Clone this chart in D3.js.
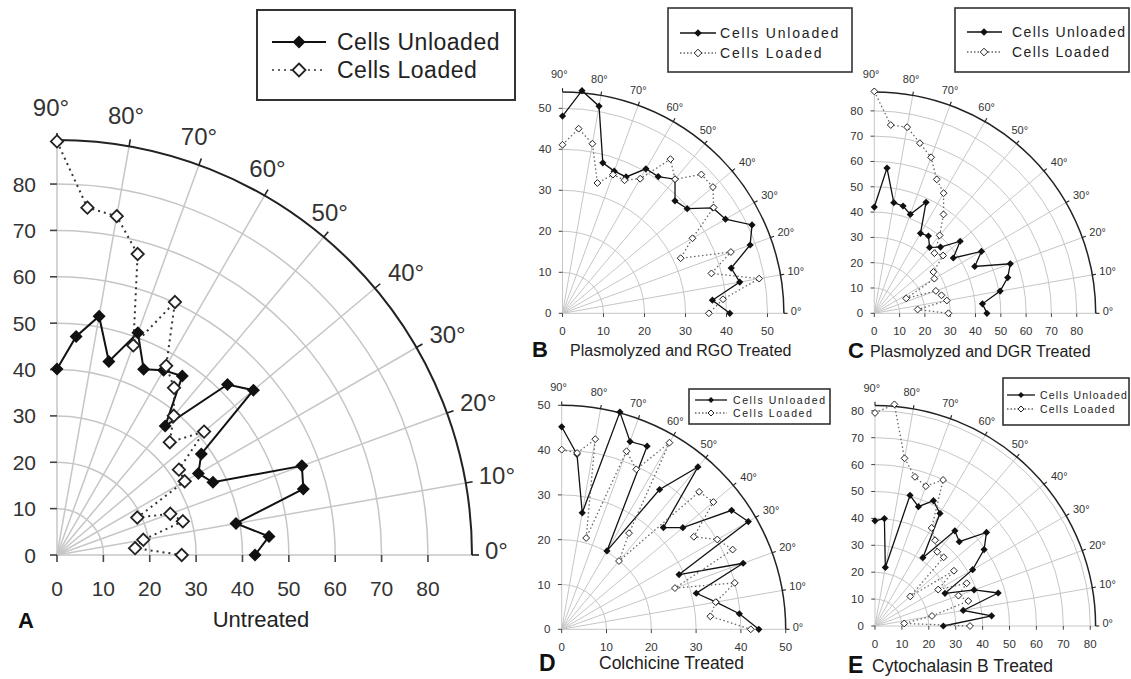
<!DOCTYPE html>
<html><head><meta charset="utf-8">
<script src="https://cdn.jsdelivr.net/npm/d3@7"></script>
<style>body{margin:0;background:#fff}svg{display:block;font-family:"Liberation Sans",Arial,sans-serif}</style>
</head><body><svg id="c" width="1131" height="679"></svg>
<script>
// ---------- data ----------
const angles = [90,85,80,75,70,65,60,55,50,45,40,35,30,25,20,15,10,5,0];
const angleTicks = [90,80,70,60,50,40,30,20,10,0];
const seriesNames = ["Cells Unloaded","Cells Loaded"];
const ticks80 = [0,10,20,30,40,50,60,70,80];
const ticks50 = [0,10,20,30,40,50];

const aUnloaded = [40.1,47.3,52.3,43.2,51.0,44.2,46.0,47.1,36.3,52.0,55.3,38.0,35.2,37.1,56.2,55.0,39.2,45.9,42.7];
const aLoaded   = [89.2,75.2,74.2,67.2,48.1,60.2,47.1,44.0,39.2,34.4,41.4,32.1,31.8,19.1,26.0,28.1,18.9,16.9,26.9];
const bUnloaded = [48.1,54.5,51.3,38.0,36.9,36.7,40.7,40.7,42.7,38.8,39.7,44.8,45.9,51.0,48.7,42.6,43.9,36.7,40.8];
const bLoaded   = [41.1,45.2,42.0,32.9,36.0,35.8,37.9,45.9,42.7,47.9,47.9,45.0,36.6,31.8,43.7,37.6,48.7,39.3,35.7];
const cUnloaded = [42.0,57.6,44.4,43.9,41.6,48.4,36.5,37.3,34.0,37.0,44.3,38.1,48.9,43.8,57.2,54.6,50.5,42.9,44.5];
const cLoaded   = [87.7,74.7,74.7,69.6,65.6,58.4,54.8,47.7,40.2,33.6,35.5,28.5,27.4,13.9,25.9,27.5,29.1,17.2,29.3];
const dUnloaded = [45.2,39.2,26.4,50.2,44.6,45.1,20.2,38.1,47.3,32.1,35.3,46.3,48.1,28.9,43.1,31.1,35.0,39.8,44.0];
const dLoaded   = [40.1,39.5,43.1,21.1,42.3,39.4,48.1,26.2,19.9,43.4,44.2,36.0,40.1,42.1,26.9,40.0,34.9,33.3,42.2];
const eUnloaded = [39.1,40.1,22.1,50.3,47.2,51.4,48.3,31.0,46.2,44.3,54.1,49.5,41.9,28.7,39.2,47.4,33.3,43.5,25.4];
const eLoaded   = [79.2,82.7,63.3,57.4,55.3,59.9,42.1,38.9,36.0,36.1,17.1,35.8,27.1,37.6,33.0,35.9,21.5,10.9,35.3];

const panelLetters = ["A","B","C","D","E"];
const panelTitles = ["Untreated","Plasmolyzed and RGO Treated","Plasmolyzed and DGR Treated","Colchicine Treated","Cytochalasin B Treated"];

// ---------- layout ----------
const svg = d3.select("#c");
const panels = [
 {un:aUnloaded, lo:aLoaded, ticks:ticks80, rMax:89.5, ox:57, oy:555, rPx:415, axisFont:21, angleFont:24, mk:6.5, lw:2,
  letter:[18,628,22], title:[261,627,22,"middle",0],
  legend:{box:[257,10,258,90], y:[42,70], sym:[272,326], mx:299, tx:337, font:23, ls:0.5, lw:2.2, mk:6.5}},
 {un:bUnloaded, lo:bLoaded, ticks:ticks50, rMax:54, ox:562.5, oy:313.3, rPx:221.4, axisFont:11.5, angleFont:11, mk:3.6, lw:1.3,
  letter:[532,357,22], title:[570,356,16,"start",0],
  legend:{box:[668,8,184,64], y:[33,53], sym:[680,716], mx:698, tx:720, font:14, ls:1.8, lw:1.6, mk:3.8}},
 {un:cUnloaded, lo:cLoaded, ticks:ticks80, rMax:87.5, ox:874.3, oy:313.3, rPx:221.4, axisFont:11.5, angleFont:11, mk:3.6, lw:1.3,
  letter:[848,358,22], title:[870,357,16,"start",0],
  legend:{box:[955,8,174,64], y:[32,52], sym:[967,1002], mx:984, tx:1012, font:14, ls:1.4, lw:1.6, mk:3.8}},
 {un:dUnloaded, lo:dLoaded, ticks:ticks50, rMax:50, ox:561.7, oy:629.3, rPx:224, axisFont:11.5, angleFont:11, mk:3.6, lw:1.3,
  letter:[539,671,23], title:[599,669,17.5,"start",0],
  legend:{box:[689,389,141,35], y:[400,413], sym:[695,727], mx:711, tx:733, font:10.5, ls:1.6, lw:1.3, mk:3}},
 {un:eUnloaded, lo:eLoaded, ticks:ticks80, rMax:82, ox:875, oy:626, rPx:220.6, axisFont:11.5, angleFont:11, mk:3.6, lw:1.3,
  letter:[848,673,23], title:[872,672,17.5,"start",0],
  legend:{box:[1003,378,126,47], y:[395,409], sym:[1007,1035], mx:1021, tx:1040, font:10.5, ls:1.2, lw:1.3, mk:3}}
];

const diamond = (x,y,h)=>`M${x},${y-h}L${x+h},${y}L${x},${y+h}L${x-h},${y}Z`;

panels.forEach((p,i)=>{
  const s = p.rPx/415;
  const r = d3.scaleLinear().domain([0,p.rMax]).range([0,p.rPx]);
  const g = svg.append("g");
  const rad = a=>a*Math.PI/180;
  const px = (a,v)=>p.ox + r(v)*Math.cos(rad(a));
  const py = (a,v)=>p.oy - r(v)*Math.sin(rad(a));
  const gridW = i===0?1.5:1;
  // grid circles
  p.ticks.filter(t=>t>0 && t<p.rMax-0.5).forEach(t=>{
    const path = d3.path(); path.moveTo(p.ox+r(t),p.oy); path.arc(p.ox,p.oy,r(t),0,-Math.PI/2,true);
    g.append("path").attr("d",path.toString()).attr("fill","none").attr("stroke","#c6c6c6").attr("stroke-width",gridW);
  });
  // radial lines
  angleTicks.forEach(a=>{
    g.append("line").attr("x1",p.ox).attr("y1",p.oy).attr("x2",px(a,p.rMax)).attr("y2",py(a,p.rMax))
     .attr("stroke","#c6c6c6").attr("stroke-width",gridW);
  });
  // outer arc
  const op = d3.path(); op.moveTo(p.ox+r(p.rMax),p.oy); op.arc(p.ox,p.oy,r(p.rMax),0,-Math.PI/2,true);
  g.append("path").attr("d",op.toString()).attr("fill","none").attr("stroke","#222").attr("stroke-width",i===0?2:1.5);
  // angle ticks + labels
  angleTicks.forEach(a=>{
    const tx = px(a,p.rMax), ty = py(a,p.rMax);
    g.append("line").attr("x1",tx).attr("y1",ty)
     .attr("x2",tx+7*s*Math.cos(rad(a))).attr("y2",ty-7*s*Math.sin(rad(a)))
     .attr("stroke","#222").attr("stroke-width",i===0?1.6:1.1);
    let lx, ly, anchor;
    if(a>=50){ anchor="middle"; lx = tx - 0.3*(a-70)*s; ly = ty - (25+(a-50)*0.2)*s; }
    else { anchor="start"; lx = tx + 13*s; ly = ty - (5 + a*0.28)*s; }
    g.append("text").attr("x",lx).attr("y",ly).attr("text-anchor",anchor).attr("dominant-baseline","central")
     .attr("font-size",p.angleFont).attr("fill","#333").text(a+"°");
  });
  // axis ticks and labels
  p.ticks.forEach(t=>{
    g.append("line").attr("x1",p.ox-7*s).attr("x2",p.ox).attr("y1",p.oy-r(t)).attr("y2",p.oy-r(t))
     .attr("stroke","#444").attr("stroke-width",i===0?1.6:1);
    g.append("text").attr("x",p.ox-21*s).attr("y",p.oy-r(t)).attr("text-anchor","end").attr("dominant-baseline","central")
     .attr("font-size",p.axisFont).attr("fill","#333").text(t);
    g.append("line").attr("x1",p.ox+r(t)).attr("x2",p.ox+r(t)).attr("y1",p.oy).attr("y2",p.oy+7*s)
     .attr("stroke","#444").attr("stroke-width",i===0?1.6:1);
    g.append("text").attr("x",p.ox+r(t)).attr("y",p.oy+33*s).attr("text-anchor","middle").attr("dominant-baseline","central")
     .attr("font-size",p.axisFont).attr("fill","#333").text(t);
  });
  // series
  const mkData = vals=>angles.map((a,k)=>({a, v:vals[k]}));
  const line = d3.line().x(d=>px(d.a,d.v)).y(d=>py(d.a,d.v));
  const un = mkData(p.un), lo = mkData(p.lo);
  g.append("path").attr("d",line(un)).attr("fill","none").attr("stroke","#111").attr("stroke-width",p.lw);
  g.append("path").attr("d",line(lo)).attr("fill","none").attr("stroke",i===0?"#333":"#666")
    .attr("stroke-width",p.lw).attr("stroke-dasharray",i===0?"2,4":"1.5,2.5");
  g.selectAll(null).data(un).enter().append("path").attr("d",d=>diamond(px(d.a,d.v),py(d.a,d.v),p.mk)).attr("fill","#111");
  g.selectAll(null).data(lo).enter().append("path").attr("d",d=>diamond(px(d.a,d.v),py(d.a,d.v),p.mk*0.95))
    .attr("fill","#fff").attr("stroke","#222").attr("stroke-width",i===0?1.8:1);
  // titles
  g.append("text").attr("x",p.letter[0]).attr("y",p.letter[1]).attr("font-size",p.letter[2]).attr("font-weight","bold")
   .attr("fill","#111").text(panelLetters[i]);
  g.append("text").attr("x",p.title[0]).attr("y",p.title[1]).attr("font-size",p.title[2]).attr("text-anchor",p.title[3])
   .attr("fill","#222").text(panelTitles[i]);
  // legend
  const L = p.legend;
  g.append("rect").attr("x",L.box[0]).attr("y",L.box[1]).attr("width",L.box[2]).attr("height",L.box[3])
   .attr("fill","#fff").attr("stroke","#333").attr("stroke-width",i===0?2:1.6);
  seriesNames.forEach((nm,k)=>{
    const y = L.y[k];
    g.append("line").attr("x1",L.sym[0]).attr("x2",L.sym[1]).attr("y1",y).attr("y2",y)
     .attr("stroke",k===0?"#111":"#666").attr("stroke-width",L.lw).attr("stroke-dasharray",k===0?null:(i===0?"2,4":"1.5,2"));
    if(k===0) g.append("path").attr("d",diamond(L.mx,y,L.mk)).attr("fill","#111");
    else g.append("path").attr("d",diamond(L.mx,y,L.mk)).attr("fill","#fff").attr("stroke","#222").attr("stroke-width",i===0?1.8:1);
    g.append("text").attr("x",L.tx).attr("y",y).attr("dominant-baseline","central").attr("font-size",L.font)
     .attr("letter-spacing",L.ls).attr("fill","#222").text(nm);
  });
});
</script></body></html>
